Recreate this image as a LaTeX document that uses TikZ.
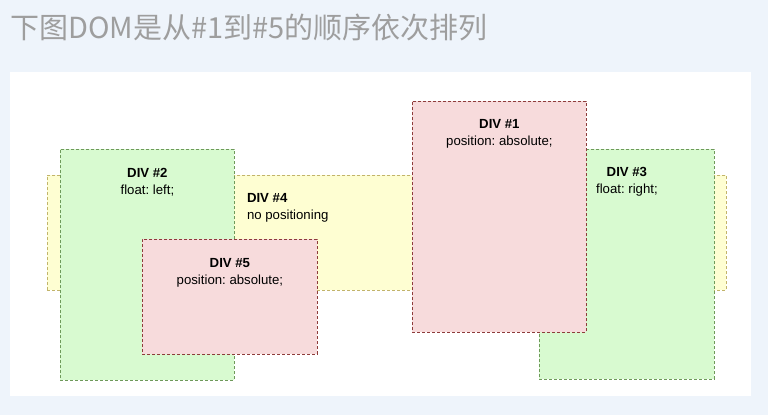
\documentclass[tikz,border=0pt]{standalone}
\usepackage{fontspec}
\setmainfont{Liberation Sans}
\newfontfamily\cjk{Noto Sans CJK SC}
\usetikzlibrary{calc}
\usetikzlibrary{positioning}
\frenchspacing

\definecolor{pagebg}{HTML}{EEF4FB}
\definecolor{titlegray}{HTML}{9E9E9E}
\definecolor{greenfill}{HTML}{D8FAD0}
\definecolor{greenline}{HTML}{6E9A5A}
\definecolor{redfill}{HTML}{F7DBDC}
\definecolor{redline}{HTML}{8E3B3B}
\definecolor{yellowfill}{HTML}{FEFED2}
\definecolor{yellowline}{HTML}{C2B46A}

\tikzset{
    divbox/.style={draw, dashed, line width=0.8pt, dash pattern=on 3pt off 2pt,
        anchor=north west, inner sep=0pt},
    floatbox/.style={divbox, fill=greenfill, draw=greenline},
    absbox/.style={divbox, fill=redfill, draw=redline},
    plainbox/.style={divbox, fill=yellowfill, draw=yellowline},
    divtext/.style={align=center, font=\fontsize{13.2}{17}\selectfont, text=black, inner sep=0pt},
}

\begin{document}
\begin{tikzpicture}[x=1pt, y=-1pt]
            \fill[pagebg] (0, 0) rectangle (768, 415);
            \useasboundingbox (0, 0) rectangle (768, 415);
            \fill[white] (10, 72) rectangle (751, 396);

            \node[anchor=west, text=titlegray, font=\cjk\fontsize{29}{34}\selectfont, inner sep=0pt] (title) at (10, 27) {下图DOM是从\#1到\#5的顺序依次排列};

            \node[plainbox, minimum width=679pt, minimum height=115pt] (div4) at (47, 175) {};
            \node[floatbox, minimum width=174pt, minimum height=231pt] (div2) at (60, 149) {};
            \node[floatbox, minimum width=175pt, minimum height=230pt] (div3) at (539, 149) {};
            \node[absbox, minimum width=175pt, minimum height=115pt] (div5) at (142, 239) {};
            \node[absbox, minimum width=174pt, minimum height=231pt] (div1) at (412, 101) {};

            \draw ($(div2.north) + (0, 33)$) node[divtext] (div2text) {\textbf{DIV \#2}\\float: left;};
            \draw ($(div3.north) + (0, 33)$) node[divtext] (div3text) {\textbf{DIV \#3}\\float: right;};
            \draw ($(div5.north) + (0, 34)$) node[divtext] (div5text) {\textbf{DIV \#5}\\position: absolute;};
            \draw ($(div1.north) + (0, 33)$) node[divtext] (div1text) {\textbf{DIV \#1}\\position: absolute;};
            \draw ($(div2.north east) + (12, 59)$) node[divtext, align=left, anchor=west] (div4text) {\textbf{DIV \#4}\\no positioning};
        \end{tikzpicture}
\end{document}
